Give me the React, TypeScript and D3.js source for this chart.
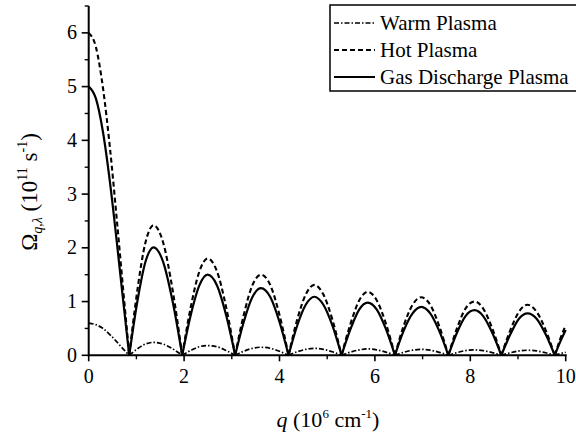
import React from "react";
import * as d3 from "d3";

// q (10^6 cm^-1) sample positions
const qValues = [
  0, 0.15, 0.3, 0.45, 0.6, 0.72, 0.85,
  1.02, 1.19, 1.36, 1.56, 1.76, 1.96,
  2.14, 2.32, 2.49, 2.69, 2.88, 3.07,
  3.25, 3.43, 3.61, 3.81, 4.0, 4.19,
  4.37, 4.55, 4.73, 4.92, 5.11, 5.3,
  5.49, 5.67, 5.85, 6.04, 6.23, 6.42,
  6.6, 6.79, 6.97, 7.16, 7.35, 7.54,
  7.72, 7.9, 8.09, 8.27, 8.46, 8.65,
  8.84, 9.02, 9.2, 9.39, 9.58, 9.77,
  9.88, 10.0,
];

const warmValues = [
  0.6, 0.57, 0.5, 0.38, 0.24, 0.12, 0,
  0.12, 0.21, 0.24, 0.21, 0.12, 0,
  0.09, 0.16, 0.18, 0.16, 0.09, 0,
  0.075, 0.13, 0.15, 0.13, 0.075, 0,
  0.065, 0.11, 0.13, 0.11, 0.065, 0,
  0.06, 0.1, 0.12, 0.1, 0.06, 0,
  0.055, 0.095, 0.11, 0.095, 0.055, 0,
  0.05, 0.087, 0.1, 0.087, 0.05, 0,
  0.047, 0.081, 0.094, 0.081, 0.047, 0,
  0.03, 0.056,
];

const hotValues = [
  6, 5.74, 4.97, 3.82, 2.42, 1.25, 0,
  1.21, 2.1, 2.42, 2.1, 1.21, 0,
  0.9, 1.56, 1.8, 1.56, 0.9, 0,
  0.75, 1.3, 1.5, 1.3, 0.75, 0,
  0.66, 1.13, 1.31, 1.13, 0.66, 0,
  0.59, 1.02, 1.18, 1.02, 0.59, 0,
  0.54, 0.94, 1.08, 0.94, 0.54, 0,
  0.5, 0.87, 1.0, 0.87, 0.5, 0,
  0.47, 0.81, 0.94, 0.81, 0.47, 0,
  0.29, 0.56,
];

const gasValues = [
  5, 4.78, 4.15, 3.19, 2.02, 1.04, 0,
  1.0, 1.74, 2.01, 1.74, 1.0, 0,
  0.75, 1.3, 1.5, 1.3, 0.75, 0,
  0.62, 1.08, 1.25, 1.08, 0.62, 0,
  0.55, 0.94, 1.09, 0.94, 0.55, 0,
  0.49, 0.85, 0.98, 0.85, 0.49, 0,
  0.45, 0.78, 0.9, 0.78, 0.45, 0,
  0.42, 0.73, 0.84, 0.73, 0.42, 0,
  0.39, 0.68, 0.78, 0.68, 0.39, 0,
  0.24, 0.47,
];

const seriesNames = ["Warm Plasma", "Hot Plasma", "Gas Discharge Plasma"];
const xTicks = [0, 2, 4, 6, 8, 10];
const yTicks = [0, 1, 2, 3, 4, 5, 6];

const width = 576;
const height = 434;
const font = "'Liberation Serif', 'DejaVu Serif', serif";

const series = [
  { name: seriesNames[0], values: warmValues, dash: "5,2,1.5,2", sw: 1.7 },
  { name: seriesNames[1], values: hotValues, dash: "5,3", sw: 2.1 },
  { name: seriesNames[2], values: gasValues, dash: "none", sw: 2.2 },
];

// split a series into arches at its zeros so the cusps stay sharp
const arches = (values: number[]) => {
  const segs: [number, number][][] = [];
  let cur: [number, number][] = [];
  values.forEach((v, i) => {
    cur.push([qValues[i], v]);
    if (v === 0 && cur.length > 1) {
      segs.push(cur);
      cur = [[qValues[i], v]];
    }
  });
  if (cur.length > 1) segs.push(cur);
  return segs;
};

const App = () => {
  const x = d3.scaleLinear().domain([0, 10]).range([88.7, 565.7]);
  const y = d3.scaleLinear().domain([0, 6.5]).range([355.3, 6]);

  const line = d3
    .line<[number, number]>()
    .x((d) => x(d[0]))
    .y((d) => y(d[1]))
    .curve(d3.curveMonotoneX);

  const xMinor = d3.range(1, 10, 2);
  const yMinor = d3.range(0.5, 7, 1);

  return (
    <svg width={width} height={height} style={{ position: "absolute", left: 0, top: 0 }}>
      <rect width={width} height={height} fill="#fff" />
      <g fill="none" stroke="#000" strokeLinejoin="round">
        {series.map((s) => (
          <g key={s.name}>
            {arches(s.values).map((seg, i) => (
              <path key={i} d={line(seg) || ""} strokeWidth={s.sw} strokeDasharray={s.dash} />
            ))}
          </g>
        ))}
      </g>

      {/* axes */}
      <g stroke="#000" strokeWidth={2}>
        <line x1={x(0)} x2={x(10) + 1} y1={y(0)} y2={y(0)} />
        <line x1={x(0)} x2={x(0)} y1={y(0) + 1} y2={y(6.5)} />
        {xTicks.map((t) => (
          <line key={t} x1={x(t)} x2={x(t)} y1={y(0)} y2={y(0) + 6} strokeWidth={1.6} />
        ))}
        {xMinor.map((t) => (
          <line key={t} x1={x(t)} x2={x(t)} y1={y(0)} y2={y(0) + 4} strokeWidth={1.4} />
        ))}
        {yTicks.map((t) => (
          <line key={t} x1={x(0) - 7} x2={x(0)} y1={y(t)} y2={y(t)} strokeWidth={1.6} />
        ))}
        {yMinor.map((t) => (
          <line key={t} x1={x(0) - 4} x2={x(0)} y1={y(t)} y2={y(t)} strokeWidth={1.4} />
        ))}
      </g>
      <g fontFamily={font} fontSize={20} fill="#000">
        {xTicks.map((t) => (
          <text key={t} x={x(t)} y={383} textAnchor="middle">
            {t}
          </text>
        ))}
        {yTicks.map((t) => (
          <text key={t} x={77} y={y(t) + 6.5} textAnchor="end">
            {t}
          </text>
        ))}
      </g>

      {/* axis titles */}
      <text x={328} y={427} fontFamily={font} fontSize={22} textAnchor="middle">
        <tspan fontStyle="italic">q</tspan>
        <tspan> (10</tspan>
        <tspan fontSize={13} dy={-9}>6</tspan>
        <tspan dy={9}> cm</tspan>
        <tspan fontSize={13} dy={-9}>-1</tspan>
        <tspan dy={9}>)</tspan>
      </text>
      <text
        transform="translate(37,192) rotate(-90)"
        fontFamily={font}
        fontSize={23}
        textAnchor="middle"
      >
        <tspan>Ω</tspan>
        <tspan fontSize={14} dy={5} fontStyle="italic">q</tspan>
        <tspan fontSize={14} fontStyle="italic">,λ</tspan>
        <tspan dy={-5}> (10</tspan>
        <tspan fontSize={14} dy={-10}>11</tspan>
        <tspan dy={10}> s</tspan>
        <tspan fontSize={14} dy={-10}>-1</tspan>
        <tspan dy={10}>)</tspan>
      </text>

      {/* legend */}
      <g>
        <rect x={330} y={5} width={260} height={86} fill="#fff" stroke="#000" strokeWidth={1.5} />
        {series.map((s, i) => (
          <g key={s.name} transform={`translate(0, ${23 + i * 27})`}>
            <line x1={334} x2={375} y1={0} y2={0} stroke="#000" strokeWidth={s.sw} strokeDasharray={s.dash} />
            <text x={380} y={7} fontFamily={font} fontSize={21}>
              {s.name}
            </text>
          </g>
        ))}
      </g>
    </svg>
  );
};

export default App;
